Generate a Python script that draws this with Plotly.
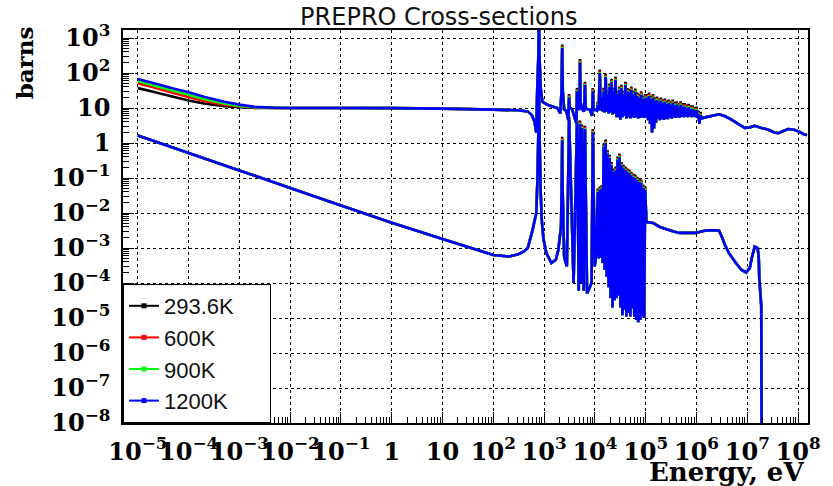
import plotly.graph_objects as go

# ---------------- data (energies in eV, cross-sections in barns) ----------------
TEMPS = ["293.6K", "600K", "900K", "1200K"]
COLORS = ["#000000", "#ff0000", "#00ff00", "#0000ff"]
# resonance peak heights relative to the 1200K curve (read from the coloured tips)
PEAK_RATIO = [1.25, 1.15, 1.07, 1.0]

# upper curve (total), low-energy part, per temperature
UP_LOW_E = [1e-5, 2e-5, 5e-5, 1e-4, 2e-4, 5e-4, 1e-3, 2e-3, 5e-3]
UP_LOW_293 = [37, 29, 21, 16.5, 13.5, 11.3, 10.5, 10.1, 10.0]
UP_LOW_600 = [51, 39, 27, 20.5, 16, 12.5, 11, 10.3, 10.05]
UP_LOW_900 = [59, 45, 31, 24, 18, 13.5, 11.5, 10.5, 10.1]
UP_LOW_1200 = [67, 52, 36, 28, 21, 15, 12.5, 10.8, 10.2]

# upper curve backbone (shared by all temperatures)
UP_E = [1e-2, 0.1, 1, 10, 100, 300, 475, 570, 650, 700, 730, 770, 810, 850, 900,
        927, 1161, 1500, 1814, 2075, 2200, 2330, 2480, 2715, 3000, 3200, 3548,
        4300, 4700, 5000, 5200, 5556, 6100, 6600, 7262, 7943, 8800, 9400, 10400,
        11000, 1.25e6, 1.48e6, 2.04e6, 2.79e6, 3.65e6, 4.99e6, 6.82e6, 8.93e6,
        1.12e7, 1.40e7, 1.91e7, 2.61e7, 3.42e7, 4.09e7, 5.12e7, 6.40e7, 8.37e7,
        1.05e8, 1.31e8, 1.5e8]
UP_S = [10.0, 10.0, 9.9, 9.6, 9.0, 8.6, 8.0, 6.3, 4.0, 2.0, 30, 300, 300, 40, 20,
        15, 12.4, 10.8, 10.0, 7.0, 30, 30, 9.0, 8.5, 4.5, 10, 9.3,
        3.7, 10, 9, 15, 9.5, 8, 9.5, 9.2, 9.0, 6, 8.8, 9.0,
        8.5, 5.0, 5.4, 6.0, 6.6, 5.8, 4.6, 3.4, 2.7,
        2.8, 3.1, 2.7, 2.4, 2.0, 1.9, 2.2, 2.5, 2.4,
        2.1, 1.75, 1.7]
# isolated resonances of the upper curve
UP_PEAK_E = [790, 2268, 3100, 4438, 5077, 6355, 9078]
UP_PEAK_S = [3000, 520, 20, 30, 200, 45, 30]

# resonance forest: peak and valley energies
FOREST_PEAK_E = [11365, 12430, 13593, 14866, 16257, 17780, 19445, 21265, 23257, 25435,
                 27816, 30421, 33270, 36385, 39793, 43520, 47595, 52053, 56929, 62259,
                 68091, 74470, 81442, 89071, 97420, 106460, 116440, 127350, 139270, 152310,
                 166580, 182170, 199240, 217900, 238280, 260600, 285000, 311700, 340900, 372800,
                 407600, 445800, 487500, 533200, 583100, 637700, 697300, 762600, 834000, 912000,
                 997500, 1091000, 1193000]
FOREST_VALLEY_E = [11885, 12998, 14215, 15546, 17002, 18593, 20335, 22240, 24321, 26599,
                   29090, 31813, 34793, 38052, 41614, 45512, 49775, 54435, 59534, 65111,
                   71208, 77878, 85173, 93148, 101813, 111350, 121770, 133180, 145650, 159280,
                   174200, 190520, 208350, 227860, 249200, 272500, 298000, 326000, 356400, 389800,
                   426300, 466200, 509800, 557600, 609700, 666800, 729300, 797400, 872100, 953900,
                   1043000, 1141000]
UP_FOREST_PEAK = [12, 100, 20, 30, 77, 25, 40, 55, 30, 63,
                  25, 33, 37, 25, 45, 30, 28, 33, 25, 29,
                  22, 20, 24, 18, 20, 20, 22, 18, 20, 16,
                  17, 15, 16, 14, 15, 13, 14, 12.5, 14, 12,
                  12.5, 11, 12.4, 11, 11, 10, 10.5, 9.5, 9.5, 8.5,
                  8.8, 6.8, 6.2]
UP_FOREST_VALLEY = [8.8, 8.5, 8, 7.5, 8, 7, 7.5, 6.5, 7, 5.5,
                    5.5, 4.6, 5.5, 6, 5, 5.5, 5, 5.5, 5.2, 5.5,
                    5, 5.2, 5.5, 5.2, 5.3, 4.5, 3.5, 2.0, 2.6, 3.8,
                    5, 4.5, 5, 4.6, 5, 4.8, 5.3, 5, 5.5, 5.2,
                    5.5, 5.3, 5.6, 5.5, 5.7, 5.5, 5.7, 5.5, 5.6, 5.5,
                    5.2, 3.5]

# lower curve (capture) backbone
LOW_E = [1e-5, 1e-4, 1e-3, 1e-2, 0.1, 1, 10, 100, 200, 300, 400, 475, 590, 700, 740,
         770, 810, 850, 900, 970, 1100, 1390, 1700, 1900, 2150, 2230, 2310, 2480, 2800,
         3800, 4800, 5300, 6000, 7000, 8600, 9900, 10500,
         1.03e5, 1.39e5, 1.9e5, 2.49e5, 3.41e5, 4.66e5, 6.67e5, 9.55e5, 1.3e6, 1.63e6,
         2.55e6, 2.79e6, 3.24e6, 3.65e6, 4.38e6, 5.77e6, 7.6e6, 9.5e6, 1.12e7, 1.24e7,
         1.40e7, 1.6e7, 1.68e7, 1.72e7, 1.88e7, 1.95e7]
LOW_S = [1.65, 0.52, 0.165, 0.052, 0.0165, 0.0053, 0.0018, 6.3e-4, 5.7e-4, 6.5e-4, 8e-4,
         1.0e-3, 3.2e-3, 1.0e-2, 0.1,
         2, 2, 0.05, 6e-3, 1.8e-3, 7.3e-4, 3.7e-4, 4.6e-4, 8.8e-4, 4e-3, 0.1, 0.05, 5.6e-4, 3e-4,
         1e-4, 6e-5, 1e-4, 6e-5, 5e-5, 1e-4, 3e-4, 6e-4,
         5.5e-3, 5.2e-3, 4.0e-3, 3.5e-3, 3.0e-3, 2.7e-3, 2.7e-3, 2.7e-3, 3.0e-3, 3.2e-3,
         3.2e-3, 3.1e-3, 1.9e-3, 1.2e-3, 7e-4, 4e-4, 2.4e-4, 2.0e-4, 2.7e-4, 5.6e-4,
         1.1e-3, 1.0e-3, 5.3e-4, 1.4e-4, 2.3e-5, 1e-12]
LOW_PEAK_E = [790, 2268, 3100, 4438, 5077, 5556, 6355, 9078]
LOW_PEAK_S = [60, 1.2, 4.6, 3.7, 3.5, 2.7, 2.5, 2.0]
# lower-curve forest (first 25 peaks / 24 valleys of the forest energies)
LOW_FOREST_PEAK = [0.04, 0.046, 0.05, 0.78, 1.0, 0.5, 0.37, 0.23, 0.15, 0.17,
                   0.33, 0.4, 0.23, 0.19, 0.17, 0.15, 0.14, 0.12, 0.106, 0.1,
                   0.087, 0.077, 0.072, 0.052, 0.046]
LOW_FOREST_VALLEY = [5e-4, 5.3e-4, 3.7e-4, 2.4e-4, 1.5e-4, 7.6e-5, 3.7e-5, 2e-5, 3.2e-5, 3.7e-5,
                     4.4e-5, 2e-5, 1.2e-5, 1.7e-5, 1.1e-5, 1.4e-5, 1.1e-5, 1.9e-5, 1.1e-5, 8.8e-6,
                     7.6e-6, 8.8e-6, 1.1e-5, 1e-5]

UP_LOW = [UP_LOW_293, UP_LOW_600, UP_LOW_900, UP_LOW_1200]

X_TICKS = [1e-5, 1e-4, 1e-3, 1e-2, 1e-1, 1, 10, 1e2, 1e3, 1e4, 1e5, 1e6, 1e7, 1e8]
X_TEXT = ["10<sup>\u22125</sup>", "10<sup>\u22124</sup>", "10<sup>\u22123</sup>",
          "10<sup>\u22122</sup>", "10<sup>\u22121</sup>", "1", "10", "10<sup>2</sup>",
          "10<sup>3</sup>", "10<sup>4</sup>", "10<sup>5</sup>", "10<sup>6</sup>",
          "10<sup>7</sup>", "10<sup>8</sup>"]
Y_TICKS = [1e-8, 1e-7, 1e-6, 1e-5, 1e-4, 1e-3, 1e-2, 1e-1, 1, 10, 1e2, 1e3]
Y_TEXT = ["10<sup>\u22128</sup>", "10<sup>\u22127</sup>", "10<sup>\u22126</sup>",
          "10<sup>\u22125</sup>", "10<sup>\u22124</sup>", "10<sup>\u22123</sup>",
          "10<sup>\u22122</sup>", "10<sup>\u22121</sup>", "1", "10", "10<sup>2</sup>",
          "10<sup>3</sup>"]


def curve(points):
    points = sorted(points)
    return [p[0] for p in points], [p[1] for p in points]


fig = go.Figure()
for i, (name, col) in enumerate(zip(TEMPS, COLORS)):
    r = PEAK_RATIO[i]
    up = list(zip(UP_LOW_E, UP_LOW[i])) + list(zip(UP_E, UP_S))
    up += [(e, s * r) for e, s in zip(UP_PEAK_E, UP_PEAK_S)]
    up += [(e, s * r) for e, s in zip(FOREST_PEAK_E, UP_FOREST_PEAK)]
    up += list(zip(FOREST_VALLEY_E, UP_FOREST_VALLEY))
    lo = list(zip(LOW_E, LOW_S))
    lo += [(e, s * r) for e, s in zip(LOW_PEAK_E, LOW_PEAK_S)]
    lo += [(e, s * r) for e, s in zip(FOREST_PEAK_E, LOW_FOREST_PEAK)]
    lo += list(zip(FOREST_VALLEY_E, LOW_FOREST_VALLEY))
    ux, uy = curve(up)
    lx, ly = curve(lo)
    fig.add_trace(go.Scatter(x=ux + [None] + lx, y=uy + [None] + ly, mode="lines",
                             line=dict(color=col, width=2.6, simplify=False),
                             showlegend=False, legendgroup=name, hoverinfo="skip"))
    label = name + ("\u00a0" * 5 if i == 0 else "")
    fig.add_trace(go.Scatter(x=[None], y=[None], mode="lines+markers", name=label,
                             line=dict(color=col, width=2),
                             marker=dict(color=col, symbol="square", size=5),
                             legendgroup=name, showlegend=True))

TICKFONT = dict(family="DejaVu Serif", size=24, color="black", weight="bold")
minor_vals = [m * 10.0 ** k for k in range(-9, 9) for m in range(2, 10)]

axis_common = dict(type="log", showline=True, linecolor="black", linewidth=1.5, mirror=True,
                   showgrid=True, gridcolor="black", griddash="dot", gridwidth=1,
                   ticks="inside", ticklen=11, tickwidth=1, tickcolor="black",
                   tickfont=TICKFONT, tickmode="array",
                   minor=dict(tickmode="array", tickvals=minor_vals, ticks="inside",
                              ticklen=6, tickwidth=1, tickcolor="black", showgrid=False))

fig.update_layout(
    width=833, height=486,
    margin=dict(l=123, r=16, t=30, b=63),
    paper_bgcolor="white", plot_bgcolor="white",
    xaxis=dict(range=[-5.2915, 8.195], tickvals=X_TICKS, ticktext=X_TEXT, tickangle=0,
               ticklabelstandoff=6, **axis_common),
    yaxis=dict(range=[-8.0, 3.229], tickvals=Y_TICKS, ticktext=Y_TEXT,
               ticklabelstandoff=6, **axis_common),
    title=dict(text="PREPRO Cross-sections", x=0.461, xref="paper", xanchor="center",
               y=0.965, yref="container", yanchor="middle",
               font=dict(family="DejaVu Sans", size=24, color="#111111")),
    legend=dict(x=0, y=0, xanchor="left", yanchor="bottom", bgcolor="white",
                bordercolor="black", borderwidth=1, tracegroupgap=0,
                font=dict(family="Liberation Sans", size=22, color="#111111")),
    annotations=[
        dict(text="barns", xref="paper", yref="paper", x=-0.144, y=0.916,
             xanchor="center", yanchor="middle", textangle=-90, showarrow=False,
             font=dict(family="DejaVu Serif", size=23, color="black", weight="bold")),
        dict(text="Energy, eV", xref="paper", yref="paper", x=0.997, y=-0.125,
             xanchor="right", yanchor="middle", showarrow=False,
             font=dict(family="DejaVu Serif", size=26, color="black", weight="bold")),
    ],
    showlegend=True,
)

fig.write_html("out.html")
